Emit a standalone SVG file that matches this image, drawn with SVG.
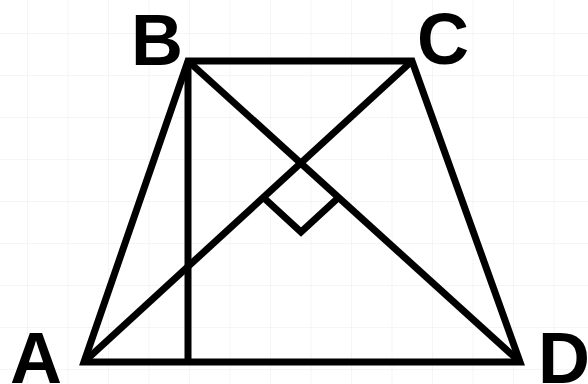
<svg xmlns="http://www.w3.org/2000/svg" width="588" height="384" viewBox="0 0 588 384">
<defs>
<style>
.ln{stroke:#000;stroke-width:7;fill:none;stroke-linejoin:miter;stroke-linecap:butt}
.lbl{font-family:"Liberation Sans",Arial,sans-serif;font-weight:bold;font-size:72px;fill:#000}
.grid{stroke:#f2f2f2;stroke-width:1.5;fill:none}
</style>
<pattern id="g" width="40.5" height="42" patternUnits="userSpaceOnUse" x="27" y="33">
<path class="grid" d="M0 0V42M0 0H40.5"/>
</pattern>
</defs>
<rect width="588" height="384" fill="#fff"/>
<rect width="588" height="384" fill="url(#g)"/>
<g id="connectors">
<path class="ln" d="M84 362 L188 61 L412 61 L520 362 Z"/>
<path class="ln" d="M84 362 L412 61"/>
<path class="ln" d="M188 61 L520 362"/>
<path class="ln" d="M188 61 L188 362"/>
<path class="ln" d="M264 198 L301 232 L338 198"/>
</g>
<g id="A"><text class="lbl" x="10" y="383">A</text></g>
<g id="B"><text class="lbl" x="131" y="65">B</text></g>
<g id="C"><text class="lbl" x="417" y="64">C</text></g>
<g id="D"><text class="lbl" x="538" y="383">D</text></g>
</svg>
